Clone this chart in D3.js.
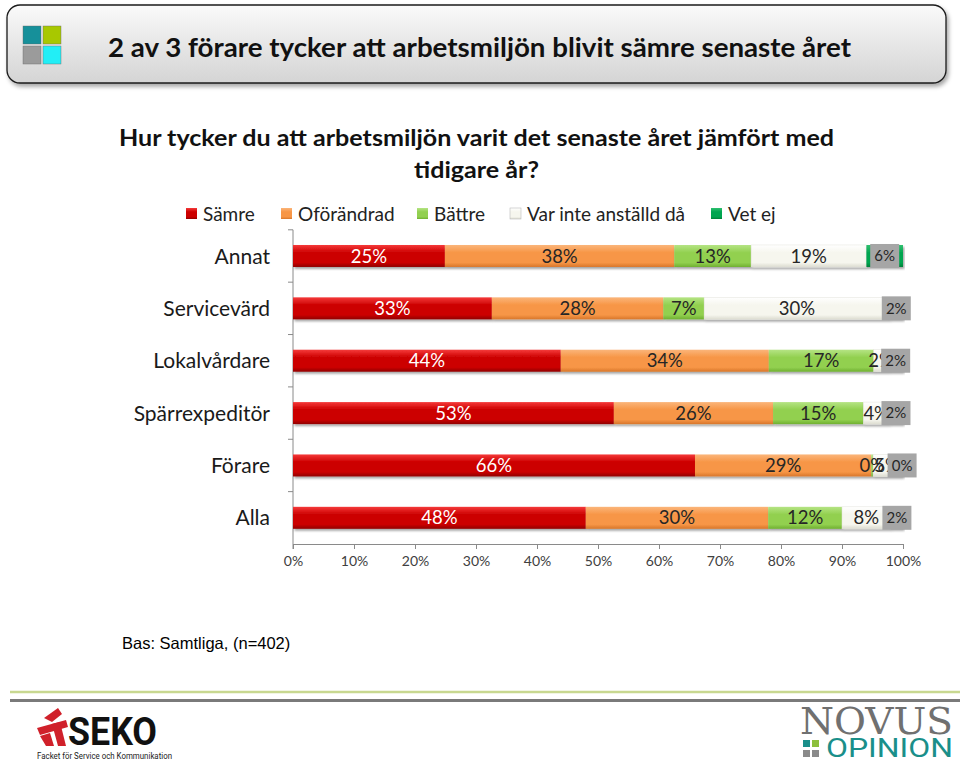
<!DOCTYPE html>
<html><head><meta charset="utf-8">
<script src="https://cdn.jsdelivr.net/npm/d3@7/dist/d3.min.js"></script>
<style>
html,body{margin:0;padding:0;background:#fff;}
svg{display:block;}
</style></head>
<body>
<script>
// ---- data ----
const categories = ["Annat","Servicevärd","Lokalvårdare","Spärrexpeditör","Förare","Alla"];
const seriesNames = ["Sämre","Oförändrad","Bättre","Var inte anställd då","Vet ej"];
const samre      = [24.9, 32.6, 43.9, 52.6, 65.9, 48.0];
const oforandrad = [37.6, 28.1, 34.1, 26.1, 28.9, 29.9];
const battre     = [12.6,  6.7, 17.2, 14.8,  0.3, 12.1];
const varInte    = [18.9, 30.4,  2.4,  4.2,  4.6,  8.0];
const vetEj      = [ 6.0,  2.2,  2.4,  2.3,  0.3,  2.0];
const xTicks = [0,10,20,30,40,50,60,70,80,90,100];
const headerTitle = "2 av 3 förare tycker att arbetsmiljön blivit sämre senaste året";
const questionLines = ["Hur tycker du att arbetsmiljön varit det senaste året jämfört med","tidigare år?"];
const baseText = "Bas: Samtliga, (n=402)";

const seriesValues = [samre, oforandrad, battre, varInte, vetEj];
const colors = [
  {base:"#cc0000", light:"#f53a3a", dark:"#900000"},
  {base:"#f79646", light:"#fbb57a", dark:"#d8762a"},
  {base:"#92d050", light:"#b5e484", dark:"#6fb030"},
  {base:"#f6f6ee", light:"#ffffff", dark:"#dcdcd0"},
  {base:"#00a550", light:"#30c070", dark:"#008038"}
];
const labelColors = ["#ffffff","#262626","#262626","#262626","#262626"];

const W = 960, H = 763;
const svg = d3.select("body").append("svg").attr("width", W).attr("height", H);
const defs = svg.append("defs");

// gradients
colors.forEach((c,i)=>{
  const g = defs.append("linearGradient").attr("id","g"+i).attr("x1",0).attr("y1",0).attr("x2",0).attr("y2",1);
  g.append("stop").attr("offset","0%").attr("stop-color",c.light);
  g.append("stop").attr("offset","35%").attr("stop-color",c.base);
  g.append("stop").attr("offset","80%").attr("stop-color",c.base);
  g.append("stop").attr("offset","100%").attr("stop-color",c.dark);
});
const hg = defs.append("linearGradient").attr("id","hdr").attr("x1",0).attr("y1",0).attr("x2",0).attr("y2",1);
hg.append("stop").attr("offset","0%").attr("stop-color","#fafafa");
hg.append("stop").attr("offset","100%").attr("stop-color","#d4d4d4");
const sh = defs.append("filter").attr("id","shadow").attr("x","-5%").attr("y","-20%").attr("width","110%").attr("height","160%");
sh.append("feDropShadow").attr("dx",1.5).attr("dy",2).attr("stdDeviation",1.2).attr("flood-color","#000").attr("flood-opacity",0.35);
const sh2 = defs.append("filter").attr("id","shadow2").attr("x","-5%").attr("y","-20%").attr("width","110%").attr("height","160%");
sh2.append("feDropShadow").attr("dx",2).attr("dy",3).attr("stdDeviation",2).attr("flood-color","#000").attr("flood-opacity",0.35);

// ---- header ----
svg.append("rect").attr("x",7).attr("y",5).attr("width",939).attr("height",78).attr("rx",13)
  .attr("fill","url(#hdr)").attr("stroke","#1a1a1a").attr("stroke-width",1.3).attr("filter","url(#shadow2)");
const icon = [
  {x:23,y:26,c:"#16909a"},{x:43,y:26,c:"#a8c800"},
  {x:23,y:46,c:"#9b9b9b"},{x:43,y:46,c:"#22eef6"}];
icon.forEach(s=>svg.append("rect").attr("x",s.x).attr("y",s.y).attr("width",18).attr("height",18).attr("fill",s.c).attr("stroke","#666").attr("stroke-width",0.4));
svg.append("text").attr("x",108).attr("y",57).attr("font-family","Lato, 'Open Sans', sans-serif")
  .attr("font-weight","bold").attr("font-size",27).attr("fill","#111")
  .attr("textLength",743).attr("lengthAdjust","spacingAndGlyphs").text(headerTitle);

// ---- question ----
svg.append("text").attr("x",119).attr("y",146).attr("font-family","Lato, 'Open Sans', sans-serif")
  .attr("font-weight","bold").attr("font-size",23).attr("fill","#111")
  .attr("textLength",715).attr("lengthAdjust","spacingAndGlyphs").text(questionLines[0]);
svg.append("text").attr("x",414).attr("y",178).attr("font-family","Lato, 'Open Sans', sans-serif")
  .attr("font-weight","bold").attr("font-size",23).attr("fill","#111")
  .attr("textLength",125).attr("lengthAdjust","spacingAndGlyphs").text(questionLines[1]);

// ---- legend ----
const legendX = [186, 281, 417, 510, 711];
const lg = svg.append("g");
seriesNames.forEach((n,i)=>{
  lg.append("rect").attr("x",legendX[i]).attr("y",208).attr("width",11).attr("height",11)
    .attr("fill","url(#g"+i+")").attr("stroke", i===3?"#bbb":"none").attr("stroke-width",0.6);
  lg.append("text").attr("x",legendX[i]+17).attr("y",220.5).attr("font-family","Lato, sans-serif")
    .attr("font-size",19).attr("fill","#222").text(n);
});

// ---- chart ----
const x = d3.scaleLinear().domain([0,100]).range([293,903]);
const y = d3.scaleBand().domain(categories).range([229.8,544]).paddingInner(0.58).paddingOuter(0.29);
const bh = y.bandwidth();

// y axis line with ticks at category boundaries
const ax = svg.append("g").attr("stroke","#8a8a8a").attr("stroke-width",1);
ax.append("line").attr("x1",293).attr("x2",293).attr("y1",229.8).attr("y2",549);
const step = y.step();
categories.forEach((c,i)=>{
  const yy = 229.8 + i*step;
  ax.append("line").attr("x1",288).attr("x2",293).attr("y1",yy).attr("y2",yy);
});

// x axis
const xAxis = d3.axisBottom(x).tickValues(xTicks).tickFormat(d=>d+"%").tickSize(5).tickSizeOuter(0);
const xg = svg.append("g").attr("transform","translate(0,544)").call(xAxis);
xg.select(".domain").attr("stroke","#8a8a8a");
xg.selectAll(".tick line").attr("stroke","#8a8a8a");
xg.selectAll(".tick text").attr("font-family","Lato, sans-serif").attr("font-size",14).attr("fill","#404040").attr("dy","1.0em");

// category labels
svg.append("g").selectAll("text").data(categories).join("text")
  .attr("x",270).attr("y",d=>y(d)+bh/2).attr("dy","0.36em").attr("text-anchor","end")
  .attr("font-family","Lato, sans-serif").attr("font-size",21).attr("fill","#1a1a1a").text(d=>d);

// stack
const rows = categories.map((c,i)=>{const o={cat:c}; seriesNames.forEach((s,j)=>o[s]=seriesValues[j][i]); return o;});
const stack = d3.stack().keys(seriesNames)(rows);

const barsG = svg.append("g");
stack.forEach((layer,j)=>{
  barsG.append("g").attr("filter","url(#shadow)").selectAll("rect").data(layer).join("rect")
    .attr("x",d=>x(d[0])).attr("y",d=>y(d.data.cat)).attr("width",d=>Math.max(0,x(d[1])-x(d[0])))
    .attr("height",bh).attr("fill","url(#g"+j+")")
    .attr("stroke", j===3 ? "#e4e4dc" : "none").attr("stroke-width",0.5);
});
// labels
const labG = svg.append("g");
stack.forEach((layer,j)=>{
  if (j===4) return;
  labG.selectAll(null).data(layer).join("text")
    .attr("x",d=>(x(d[0])+x(d[1]))/2).attr("y",d=>y(d.data.cat)+bh/2).attr("dy","0.36em")
    .attr("text-anchor","middle").attr("font-family","Lato, sans-serif").attr("font-size",18.5)
    .attr("fill",labelColors[j]).text(d=>Math.round(d[1]-d[0])+"%");
});
// Vet ej labels with gray box
const vl = stack[4];
const boxW = 29;
vl.forEach(d=>{
  const cx = (x(d[0])+x(d[1]))/2;
  const yy = y(d.data.cat);
  labG.append("rect").attr("x",cx-boxW/2).attr("y",yy-1).attr("width",boxW).attr("height",bh+2).attr("fill","#a6a6a6");
  labG.append("text").attr("x",cx).attr("y",yy+bh/2).attr("dy","0.36em").attr("text-anchor","middle")
    .attr("font-family","Lato, sans-serif").attr("font-size",15).attr("fill","#262626").text(Math.round(d[1]-d[0])+"%");
});

// base text
svg.append("text").attr("x",122).attr("y",649).attr("font-family","Liberation Sans, Arial, sans-serif")
  .attr("font-size",16.5).attr("fill","#000").text(baseText);

// ---- footer ----
svg.append("line").attr("x1",10).attr("x2",960).attr("y1",692).attr("y2",692).attr("stroke","#c8d890").attr("stroke-width",2.5);
svg.append("line").attr("x1",10).attr("x2",960).attr("y1",700.5).attr("y2",700.5).attr("stroke","#7a7a7a").attr("stroke-width",3);

// SEKO logo
const seko = svg.append("g");
seko.append("path").attr("d","M44,718 L58,708 L62,714 L52,722 Z").attr("fill","#d0202a");
seko.append("path").attr("d","M37,728 L66,720 L68,727 L40,735 Z").attr("fill","#d0202a");
seko.append("path").attr("d","M52,724 L60,722 L66,746 L58,746 Z").attr("fill","#d0202a");
seko.append("path").attr("d","M40,736 L50,733 L54,746 L46,746 Z").attr("fill","#d0202a");
seko.append("text").attr("x",68).attr("y",745).attr("font-family","Liberation Sans Narrow, Roboto, sans-serif")
  .attr("font-weight","bold").attr("font-size",38).attr("fill","#111").attr("textLength",89).attr("lengthAdjust","spacingAndGlyphs").text("SEKO");
seko.append("text").attr("x",37).attr("y",759).attr("font-family","Roboto, sans-serif")
  .attr("font-size",9).attr("fill","#222").attr("textLength",135).attr("lengthAdjust","spacingAndGlyphs").text("Facket för Service och Kommunikation");

// NOVUS logo
const nv = svg.append("g");
nv.append("text").attr("x",800).attr("y",734).attr("font-family","DejaVu Serif, Liberation Serif, serif")
  .attr("font-size",38).attr("fill","#707070").attr("textLength",153).attr("lengthAdjust","spacingAndGlyphs").text("NOVUS");
[{x:803,y:740,c:"#1a8f8a"},{x:812,y:740,c:"#8dbf3c"},{x:803,y:750,c:"#8a8a8a"},{x:812,y:750,c:"#8a8a8a"}]
  .forEach(s=>nv.append("rect").attr("x",s.x).attr("y",s.y).attr("width",7).attr("height",7).attr("fill",s.c));
nv.append("text").attr("x",826).attr("y",757).attr("font-family","Roboto, sans-serif")
  .attr("font-size",25).attr("fill","#1a8f8a").attr("textLength",127).attr("lengthAdjust","spacingAndGlyphs").text("OPINION");
</script>
</body></html>
